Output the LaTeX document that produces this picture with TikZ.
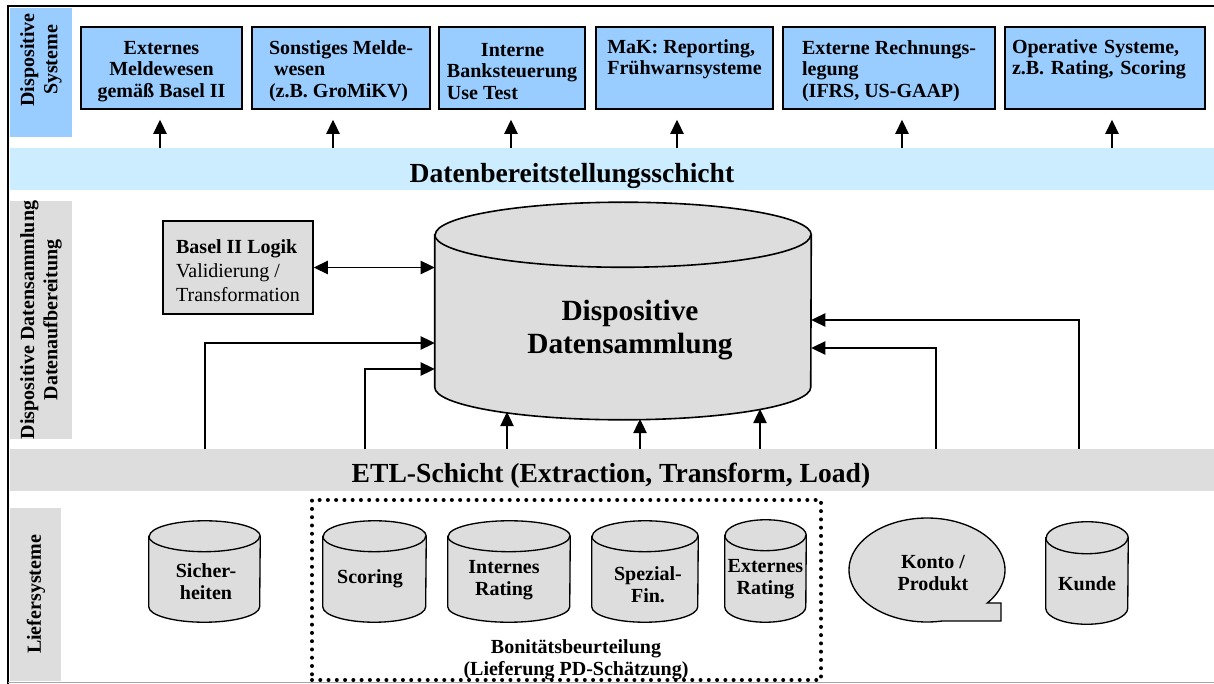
\documentclass[tikz,border=0pt]{standalone}
\usepackage{fontspec}
\setmainfont{Liberation Serif}
\usetikzlibrary{arrows.meta}

\definecolor{boxblue}{HTML}{99CCFF}
\definecolor{bandblue}{HTML}{CCECFF}
\definecolor{panelgray}{HTML}{DDDDDD}

\tikzset{
  sysbox/.style={draw, line width=1.2pt, fill=boxblue, minimum height=61.5pt,
    inner sep=0pt, font=\bfseries\fontsize{15}{16.3}\selectfont},
  panel/.style={inner sep=0pt},
  paneltext/.style={rotate=90, align=center, font=\bfseries\fontsize{15}{17.5}\selectfont},
  band/.style={minimum width=903pt, minimum height=31.5pt, inner sep=0pt},
  bandtext/.style={font=\bfseries\fontsize{20.7}{24}\selectfont},
  cylbody/.style={inner sep=0pt},
  cyltext/.style={align=center, font=\bfseries\fontsize{15}{16.5}\selectfont},
  dotbox/.style={draw, line width=3pt, dash pattern=on 0pt off 6.2pt, line cap=round},
  arr/.style={-{Triangle[length=10.5pt,width=10pt]}, line width=0.9pt},
  arr2/.style={{Triangle[length=10.5pt,width=10pt]}-{Triangle[length=10.5pt,width=10pt]}, line width=0.9pt},
}

% extra room above the first text line of a box
\newcommand{\topgap}{\rule{0pt}{15pt}}

% cylinder round a body node: [line width]{node}{x radius}{y radius}
\newcommand{\drawcyl}[4][1pt]{%
  \draw[line width=#1, fill=panelgray] (#2.north west) -- (#2.south west)
    arc[start angle=180, end angle=360, x radius=#3, y radius=#4]
    -- (#2.north east)
    arc[start angle=0, end angle=180, x radius=#3, y radius=#4] -- cycle;
  \draw[line width=#1] (#2.north west)
    arc[start angle=180, end angle=360, x radius=#3, y radius=#4];
}

\begin{document}
\begin{tikzpicture}[x=0.75pt, y=-0.75pt]
  \useasboundingbox (0,0) rectangle (1214,684);
  % frame
  \draw[line width=0.9pt] (1214,6) -- (8,6) -- (8,684);
  \draw[gray!70, line width=0.8pt] (8,682.5) -- (1214,682.5);

  % layer labels
  \node[panel, fill=boxblue, minimum width=46.5pt, minimum height=96.75pt] (pan1) at (41,72.5) {};
  \node[paneltext] (pan1t) at (41,60) {Dispositive\\Systeme};
  \node[panel, fill=panelgray, minimum width=46.5pt, minimum height=178.5pt] (pan2) at (41,320) {};
  \node[paneltext] (pan2t) at (41,320) {Dispositive Datensammlung\\Datenaufbereitung};
  \node[panel, fill=panelgray, minimum width=38.25pt, minimum height=129.75pt] (pan3) at (35.5,594.5) {};
  \node[paneltext] (pan3t) at (36,594.5) {Liefersysteme};

  % dispositive systeme
  \node[sysbox, minimum width=120.75pt, align=center] (b1) at (161.5,68) {\topgap Externes\\Meldewesen\\gemäß Basel II};
  \node[sysbox, minimum width=133.5pt, align=left] (b2) at (341,68) {\topgap Sonstiges Melde-\\~wesen\\(z.B. GroMiKV)};
  \node[sysbox, minimum width=109.5pt, align=left] (b3) at (512,68) {\topgap\hspace*{1.7em}Interne\\Banksteuerung\\Use Test};
  \node[sysbox, minimum width=132.75pt, align=left] (b4) at (684.5,68) {\topgap MaK: Reporting,\\Frühwarnsysteme\\\strut};
  \node[sysbox, minimum width=159pt, align=left] (b5) at (889,68) {\topgap Externe Rechnungs-\\legung\\(IFRS, US-GAAP)};
  \node[sysbox, text width=139.5pt, inner xsep=5.25pt, align=left] (b6) at (1105,68) {\topgap Operative Systeme,\\z.B. Rating, Scoring\\\strut};

  % bands
  \node[band, fill=bandblue] (dbs) at (612,169) {};
  \node[bandtext] (dbst) at (572,176) {Datenbereitstellungsschicht};
  \node[band, fill=panelgray] (etl) at (612,470) {};
  \node[bandtext] (etlt) at (611,476) {ETL-Schicht (Extraction, Transform, Load)};

  \foreach \b/\dx in {b1/-1.5, b2/-8, b3/-1, b4/-7.5, b5/13, b6/7}
    \draw[arr] ([xshift=\dx*0.75pt]\b.south |- dbs.north) -- ([shift={(\dx,10)}]\b.south);

  % datensammlung
  \node[draw, line width=1.2pt, fill=panelgray, minimum width=112.5pt, minimum height=69.75pt,
    align=left, font=\fontsize{15}{18}\selectfont] (basel) at (238,267.5)
    {\topgap\textbf{Basel II Logik}\\Validierung /\\Transformation};
  \node[cylbody, minimum width=282pt, minimum height=114pt] (db) at (623,311) {};
  \drawcyl[1.2pt]{db}{141pt}{24.4pt}
  \node[align=center, font=\bfseries\fontsize{22}{24.75}\selectfont] (dbt) at (630,330) {Dispositive\\Datensammlung};

  \draw[arr2] (basel.east) -- (basel.east -| db.west);

  \coordinate (l1) at (205,343);
  \coordinate (l2) at (365,369);
  \coordinate (r1) at (1079,320);
  \coordinate (r2) at (936,348);
  \coordinate (u1) at (507,412);
  \coordinate (u2) at (640,419);
  \coordinate (u3) at (760,409);
  \foreach \c in {l1,l2}
    \draw[arr] (\c |- etl.north) -- (\c) -- (\c -| db.west);
  \foreach \c in {r1,r2}
    \draw[arr] (\c |- etl.north) -- (\c) -- (\c -| db.east);
  \foreach \c in {u1,u2,u3}
    \draw[arr] (\c |- etl.north) -- (\c);

  % liefersysteme
  \node[dotbox, minimum width=381.75pt, minimum height=135pt] (bon) at (566.5,590) {};
  \node[cyltext] (bont) at (576,660) {Bonitätsbeurteilung\\(Lieferung PD-Schätzung)};

  \node[cylbody, minimum width=83.25pt, minimum height=52.5pt] (sich) at (204.5,571.5) {};
  \node[cylbody, minimum width=77.25pt, minimum height=52.5pt] (scor) at (374.5,571.5) {};
  \node[cylbody, minimum width=91.5pt, minimum height=52.5pt] (intr) at (509,571.5) {};
  \node[cylbody, minimum width=79.5pt, minimum height=52.5pt] (spez) at (645,571.5) {};
  \node[cylbody, minimum width=60.75pt, minimum height=53.25pt] (extr) at (765.5,571) {};
  \node[cylbody, minimum width=61.5pt, minimum height=52.5pt] (kunde) at (1087,573) {};
  \drawcyl{sich}{41.6pt}{11.6pt}
  \drawcyl{scor}{38.6pt}{11.6pt}
  \drawcyl{intr}{45.75pt}{11.6pt}
  \drawcyl{spez}{39.75pt}{11.6pt}
  \drawcyl{extr}{30.4pt}{11.6pt}
  \drawcyl{kunde}{30.75pt}{12pt}

  \node[cyltext] (sicht) at (206,582) {Sicher-\\heiten};
  \node[cyltext] (scort) at (370,579) {Scoring};
  \node[cyltext] (intrt) at (504,580) {Internes\\Rating};
  \node[cyltext] (spezt) at (648,585) {Spezial-\\Fin.};
  \node[cyltext] (extrt) at (765.5,579) {Externes\\Rating};
  \node[cyltext] (kundet) at (1087,584) {Kunde};

  \draw[line width=1pt, fill=panelgray] plot[domain=-39.4:281, samples=90]
    ({927+78*cos(\x)}, {570-52*sin(\x)}) -- (1001,621) -- (1001,603) -- cycle;
  \node[cyltext] (konto) at (933,573) {Konto /\\Produkt};
\end{tikzpicture}
\end{document}
